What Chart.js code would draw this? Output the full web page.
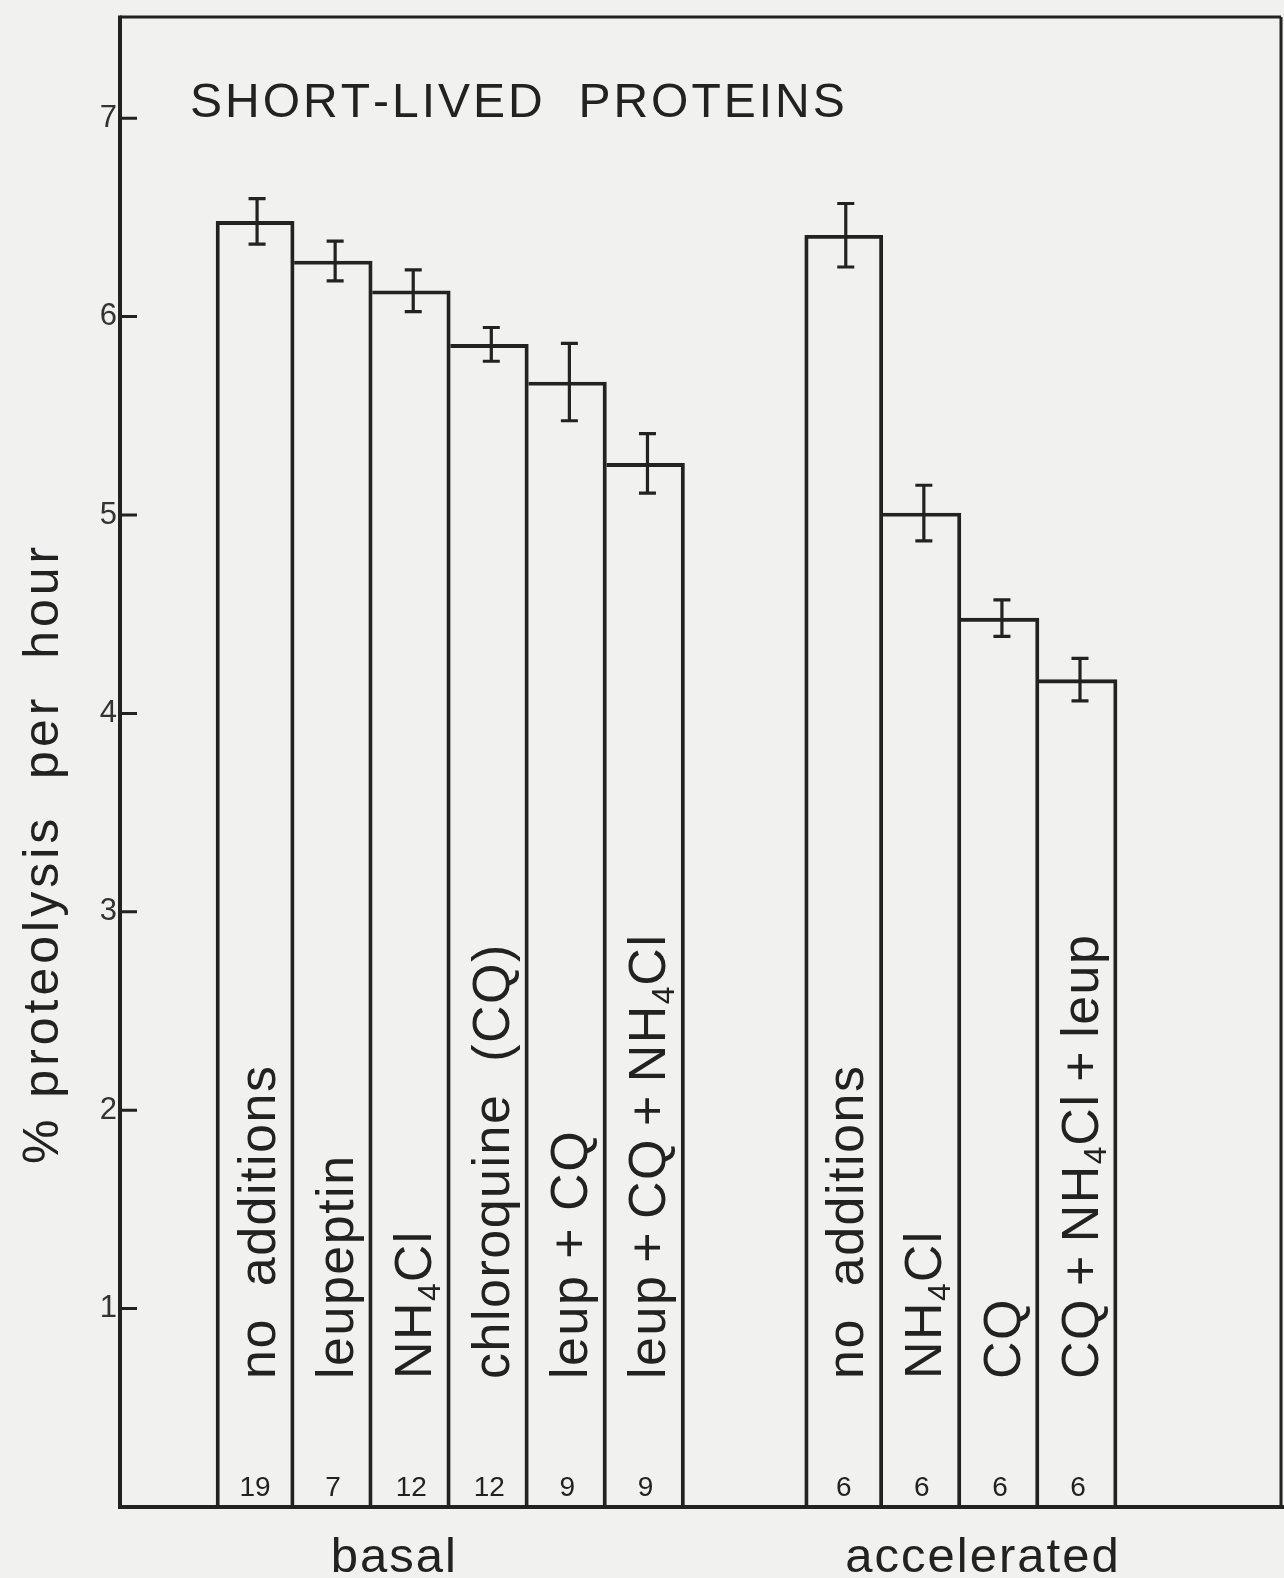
<!DOCTYPE html>
<html>
<head>
<meta charset="utf-8">
<script src="https://cdn.jsdelivr.net/npm/chart.js@4.4.0/dist/chart.umd.min.js"></script>
<style>
  html, body { margin: 0; padding: 0; background: #f1f1ef; }
  canvas { display: block; }
</style>
</head>
<body>
<canvas id="chart" width="1284" height="1578"></canvas>
<script>
// ---- data ----
const chartTitle = 'SHORT-LIVED  PROTEINS';
const yAxisTitle = '% proteolysis  per  hour';
const groupNames = ['basal', 'accelerated'];

const basalLabels = ['no  additions', 'leupeptin', 'NH₄Cl', 'chloroquine  (CQ)', 'leup + CQ', 'leup\u2009+\u2009CQ\u2009+\u2009NH₄Cl'];
const basalValues = [6.48, 6.28, 6.13, 5.86, 5.67, 5.26];
const basalErrors = [0.115, 0.10, 0.105, 0.085, 0.195, 0.15];
const basalN = [19, 7, 12, 12, 9, 9];

const accelLabels = ['no  additions', 'NH₄Cl', 'CQ', 'CQ\u2009+\u2009NH₄Cl\u2009+\u2009leup'];
const accelValues = [6.41, 5.01, 4.48, 4.17];
const accelErrors = [0.16, 0.14, 0.092, 0.107];
const accelN = [6, 6, 6, 6];

const yTickValues = [1, 2, 3, 4, 5, 6, 7];

// ---- layout / style ----
const INK = '#222222';
const FONT = '"Liberation Sans", Arial, Helvetica, sans-serif';
const LINE = 3.2;
const groupStarts = [0, 7.54];      // slot where each group's first bar sits
const groupLabelOffset = 1.77;      // group caption position, in slots from the group's first bar

const groups = [
  { name: groupNames[0], labels: basalLabels, values: basalValues, errors: basalErrors, n: basalN },
  { name: groupNames[1], labels: accelLabels, values: accelValues, errors: accelErrors, n: accelN }
];

const bars = [];
groups.forEach((g, gi) => {
  g.values.forEach((v, i) => {
    bars.push({ x: groupStarts[gi] + i, y: v, err: g.errors[i], n: g.n[i], label: g.labels[i], group: gi, index: i });
  });
});

// text drawn glyph by glyph so that letter spacing and subscripts can be controlled
const SUBS = '₀₁₂₃₄₅₆₇₈₉';
function richWidth(ctx, text, size, spacing) {
  let w = 0;
  for (const ch of text) {
    const s = SUBS.indexOf(ch);
    if (s >= 0) {
      ctx.font = Math.round(size * 0.62) + 'px ' + FONT;
      w += ctx.measureText(String(s)).width + spacing * 0.5;
    } else {
      ctx.font = size + 'px ' + FONT;
      w += ctx.measureText(ch).width + spacing;
    }
  }
  return w - spacing;
}
function drawRich(ctx, text, x, y, size, spacing) {
  let cx = x;
  for (const ch of text) {
    const s = SUBS.indexOf(ch);
    if (s >= 0) {
      ctx.font = Math.round(size * 0.62) + 'px ' + FONT;
      ctx.fillText(String(s), cx, y + size * 0.17);
      cx += ctx.measureText(String(s)).width + spacing * 0.5;
    } else {
      ctx.font = size + 'px ' + FONT;
      ctx.fillText(ch, cx, y);
      cx += ctx.measureText(ch).width + spacing;
    }
  }
}

const paperPlugin = {
  id: 'paper',
  beforeDraw(chart) {
    const { ctx, width, height } = chart;
    ctx.save();
    ctx.fillStyle = '#f1f1ef';
    ctx.fillRect(0, 0, width, height);
    ctx.restore();
  }
};

const decorPlugin = {
  id: 'decor',
  afterDraw(chart) {
    const { ctx, chartArea: a, scales: { x, y } } = chart;
    const meta = chart.getDatasetMeta(0);
    ctx.save();
    ctx.strokeStyle = INK;
    ctx.fillStyle = INK;
    ctx.lineCap = 'butt';

    // frame
    ctx.lineWidth = 3;
    ctx.beginPath();
    ctx.moveTo(a.left, a.top); ctx.lineTo(a.right, a.top);
    ctx.moveTo(a.right, a.top); ctx.lineTo(a.right, a.bottom);
    ctx.stroke();
    ctx.lineWidth = 4;
    ctx.beginPath();
    ctx.moveTo(a.left, a.top - 1.5); ctx.lineTo(a.left, a.bottom);
    ctx.moveTo(a.left - 2, a.bottom); ctx.lineTo(chart.width, a.bottom);
    ctx.stroke();

    // inward tick marks on the value axis
    ctx.lineWidth = 3;
    ctx.beginPath();
    yTickValues.forEach(v => {
      const py = y.getPixelForValue(v);
      ctx.moveTo(a.left, py); ctx.lineTo(a.left + 17, py);
    });
    ctx.stroke();

    // error bars
    ctx.lineWidth = 3.2;
    bars.forEach((b, i) => {
      const el = meta.data[i];
      const cx = el.x + 2;
      const t = y.getPixelForValue(b.y + b.err);
      const bt = y.getPixelForValue(b.y - b.err);
      ctx.beginPath();
      ctx.moveTo(cx, t); ctx.lineTo(cx, bt);
      ctx.moveTo(cx - 8.5, t); ctx.lineTo(cx + 8.5, t);
      ctx.moveTo(cx - 8.5, bt); ctx.lineTo(cx + 8.5, bt);
      ctx.stroke();
    });

    // treatment names (vertical) and replicate counts
    const base = y.getPixelForValue(0);
    const labelSize = 52;
    ctx.textBaseline = 'alphabetic';
    bars.forEach((b, i) => {
      const el = meta.data[i];
      ctx.save();
      ctx.translate(el.x + 1, base - 128);
      ctx.rotate(-Math.PI / 2);
      ctx.textAlign = 'left';
      drawRich(ctx, b.label, 0, labelSize * 0.716 / 2, labelSize, 1.5);
      ctx.restore();

      ctx.font = '28px ' + FONT;
      ctx.textAlign = 'center';
      ctx.fillText(String(b.n), el.x, base - 11);
    });

    // group captions under the axis
    ctx.textAlign = 'left';
    groups.forEach((g, gi) => {
      const cx = x.getPixelForValue(groupStarts[gi] + groupLabelOffset);
      const w = richWidth(ctx, g.name, 49, 2);
      drawRich(ctx, g.name, cx - w / 2, a.bottom + 65, 49, 2);
    });

    // title inside the frame
    drawRich(ctx, chartTitle, 190, 117, 48, 3);

    // value-axis title
    ctx.save();
    ctx.translate(58, 1164);
    ctx.rotate(-Math.PI / 2);
    drawRich(ctx, yAxisTitle, 0, 0, 50, 4);
    ctx.restore();

    ctx.restore();
  }
};

new Chart(document.getElementById('chart'), {
  type: 'bar',
  data: {
    datasets: [{
      data: bars.map(b => ({ x: b.x, y: b.y })),
      backgroundColor: 'rgba(0,0,0,0)',
      borderColor: INK,
      borderSkipped: false,
      borderWidth: ctx => {
        const b = bars[ctx.dataIndex];
        if (!b) return LINE;
        const vals = groups[b.group].values;
        const prev = b.index > 0 ? vals[b.index - 1] : -Infinity;
        const next = b.index < vals.length - 1 ? vals[b.index + 1] : -Infinity;
        return { top: LINE, bottom: 0, left: prev < b.y ? LINE : 0, right: next <= b.y ? LINE : 0 };
      },
      barPercentage: 1,
      categoryPercentage: 1
    }]
  },
  options: {
    responsive: false,
    animation: false,
    devicePixelRatio: 1,
    layout: { padding: { top: 17, right: 3, bottom: 71, left: 0 } },
    plugins: { legend: { display: false }, tooltip: { enabled: false } },
    scales: {
      x: {
        type: 'linear',
        display: false,
        offset: false,
        min: -1.73,
        max: 13.14,
        afterBuildTicks: s => { s.ticks = [{ value: s.min }, { value: s.max }]; }
      },
      y: {
        min: 0,
        max: 7.51,
        grid: { display: false, drawTicks: false },
        border: { display: false },
        ticks: {
          stepSize: 1,
          padding: 3,
          color: '#333333',
          font: { family: FONT, size: 31 },
          callback: v => (yTickValues.includes(v) ? String(v) : '')
        },
        afterFit: s => { s.width = 120; s.paddingTop = 0; s.paddingBottom = 0; }
      }
    }
  },
  plugins: [paperPlugin, decorPlugin]
});
</script>
</body>
</html>
